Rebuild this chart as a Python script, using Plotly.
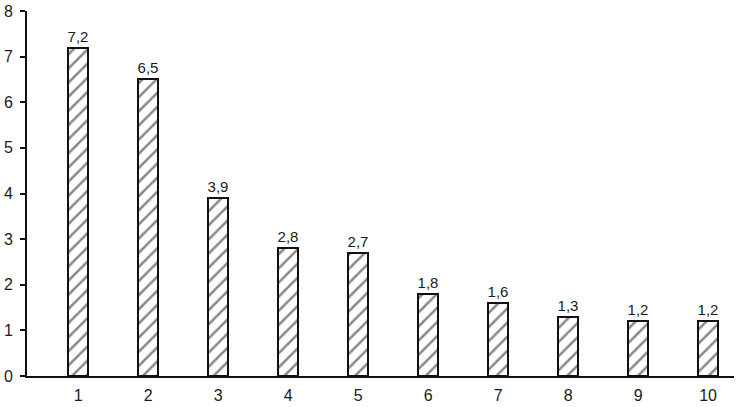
import plotly.graph_objects as go

categories = [1, 2, 3, 4, 5, 6, 7, 8, 9, 10]
values = [7.2, 6.5, 3.9, 2.8, 2.7, 1.8, 1.6, 1.3, 1.2, 1.2]
labels = [f"{v:.1f}".replace(".", ",") for v in values]
y_ticks = [0, 1, 2, 3, 4, 5, 6, 7, 8]

fig = go.Figure(go.Bar(
    x=categories, y=values, width=0.28,
    text=labels, textposition="outside", cliponaxis=False, constraintext="none",
    textfont=dict(size=15, color="#1a1a1a"),
    marker=dict(color="white", line=dict(color="#111", width=2),
                pattern=dict(shape="/", fgcolor="#111", bgcolor="white", size=10, solidity=0.25)),
))
fig.update_layout(
    width=737, height=407, margin=dict(l=27, r=3, t=8, b=30),
    plot_bgcolor="white", paper_bgcolor="white",
    font=dict(family="Liberation Sans, Arial", size=16, color="#1a1a1a"),
    showlegend=False, bargap=0,
)
fig.update_xaxes(range=[0.27, 10.37], tickvals=categories, showline=True, linecolor="#111",
                 linewidth=2, ticks="", showgrid=False, zeroline=False, ticklabelstandoff=4,
                 ticklabeloverflow="allow")
fig.update_yaxes(range=[0, 8], tickvals=y_ticks, showline=True, linecolor="#111", linewidth=2,
                 ticks="outside", ticklen=5, tickwidth=2, tickcolor="#111",
                 showgrid=False, zeroline=False, ticklabelstandoff=4, ticklabeloverflow="allow")
fig.write_html("out.html", config={"displayModeBar": False},
               post_script="document.body.style.margin='0';")
